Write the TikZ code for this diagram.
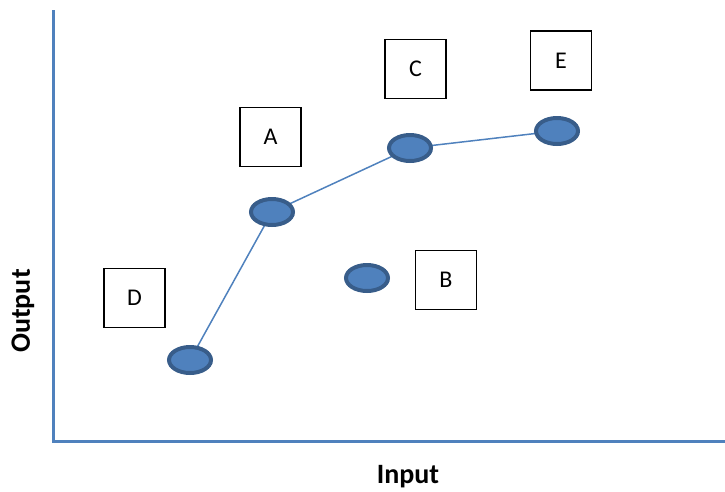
\documentclass[tikz,border=0pt]{standalone}
\usepackage{fontspec}
\setmainfont{Carlito}
\usetikzlibrary{shapes.geometric}
\definecolor{axisblue}{HTML}{4F81BD}
\definecolor{dotfill}{HTML}{4F81BD}
\definecolor{dotline}{HTML}{385D8A}
\tikzset{
  dot/.style={ellipse, fill=dotfill, draw=dotline, line width=4pt, minimum width=42pt, minimum height=26pt, inner sep=0pt},
  lbox/.style={draw=black, line width=1.6pt, minimum width=61pt, minimum height=59pt, font=\fontsize{24}{28}\selectfont},
  axis/.style={draw=axisblue, line width=3pt},
  link/.style={draw=axisblue, line width=1.5pt},
  axlabel/.style={font=\bfseries\fontsize{28}{32}\selectfont}
}
\begin{document}
\begin{tikzpicture}[x=1pt,y=-1pt]
\useasboundingbox (0,0) rectangle (725,491);
\coordinate (top) at (53,10);
\coordinate (origin) at (53,441);
\coordinate (right) at (725,441);
\draw[axis] (top) -- (origin) -- (right);
\node[lbox] (A) at (270.5,137) {A};
\node[lbox] (C) at (415.5,69) {C};
\node[lbox] (E) at (561,60.5) {E};
\node[lbox] (B) at (446,280) {B};
\node[lbox] (D) at (134.5,298) {D};
\coordinate (p1) at (190,360);
\coordinate (p2) at (272,212);
\coordinate (p3) at (410,148);
\coordinate (p4) at (557,131);
\draw[link] (p1) -- (p2) -- (p3) -- (p4);
\node[dot] (d1) at (p1) {};
\node[dot] (d2) at (p2) {};
\node[dot] (d3) at (p3) {};
\node[dot] (d4) at (p4) {};
\node[dot] (d5) at (367,278) {};
\node[axlabel] (xl) at (408,477) {Input};
\node[axlabel, rotate=90] (yl) at (23,311) {Output};
\end{tikzpicture}
\end{document}
